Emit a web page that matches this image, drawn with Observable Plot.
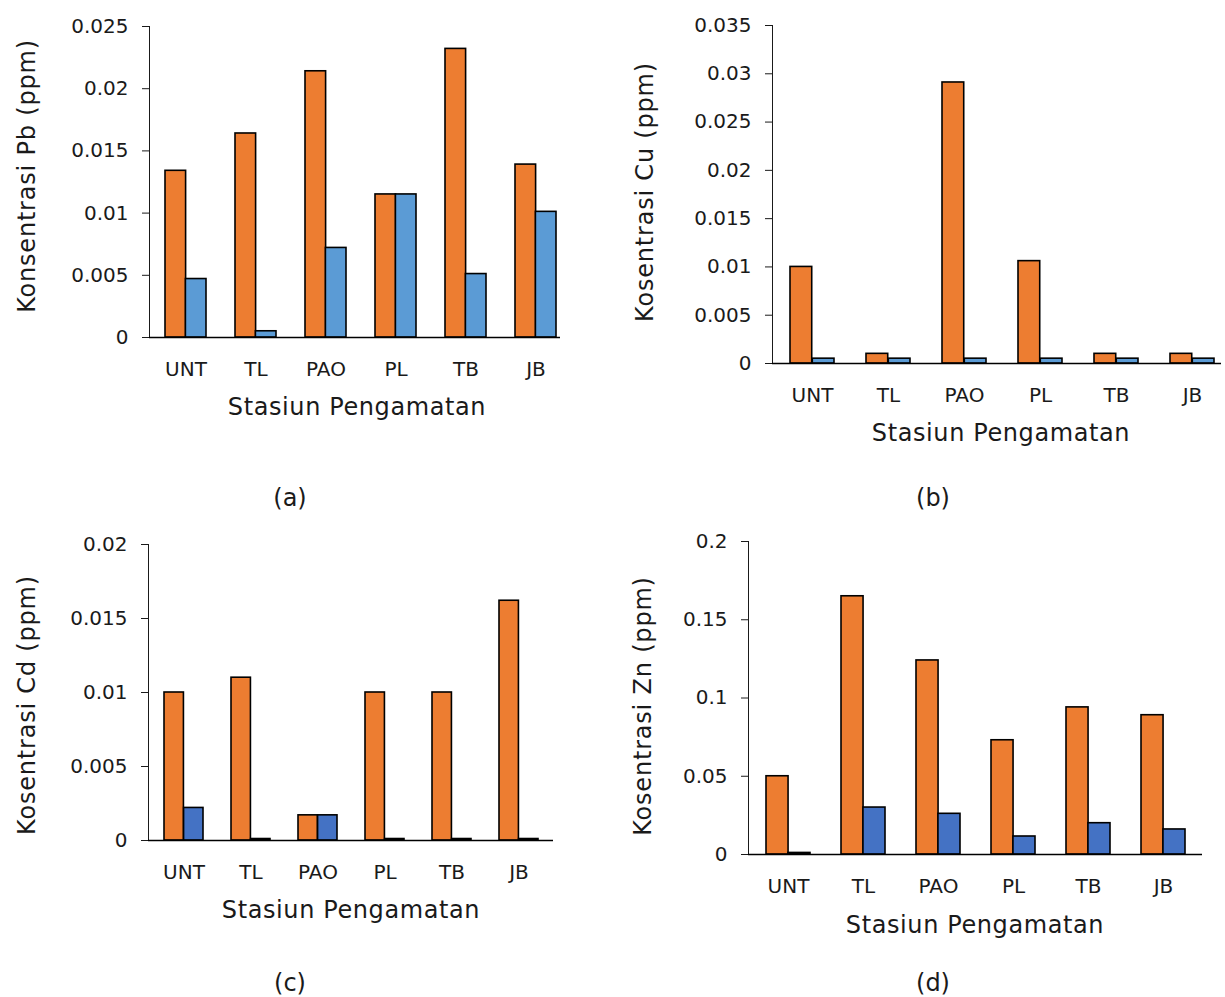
<!DOCTYPE html>
<html>
<head>
<meta charset="utf-8">
<script src="https://cdn.jsdelivr.net/npm/d3@7"></script>
<script src="https://cdn.jsdelivr.net/npm/@observablehq/plot@0.6"></script>
<style>
  html, body { margin: 0; padding: 0; background: #fff; }
  #page { position: relative; width: 1225px; height: 997px; overflow: hidden; font-family: "DejaVu Sans", sans-serif; color: #1a1a1a; }
  .panel { position: absolute; overflow: hidden; }
  .panel svg { max-width: none !important; }
  .lbl { position: absolute; white-space: nowrap; line-height: 1; transform: translate(-50%, -50%); }
  .ytitle { font-size: 24px; letter-spacing: 0.8px; transform: translate(-50%, -50%) rotate(-90deg); }
  .xtitle { font-size: 24px; letter-spacing: 0.6px; }
  .plab { font-size: 24px; }
</style>
</head>
<body>
<div id="page"></div>
<script>
// ---- data ----
const stations = ["UNT", "TL", "PAO", "PL", "TB", "JB"];

const pbOrange = [0.0134, 0.0164, 0.0214, 0.0115, 0.0232, 0.0139];
const pbBlue   = [0.0047, 0.0005, 0.0072, 0.0115, 0.0051, 0.0101];

const cuOrange = [0.0100, 0.0010, 0.0291, 0.0106, 0.0010, 0.0010];
const cuBlue   = [0.0005, 0.0005, 0.0005, 0.0005, 0.0005, 0.0005];

const cdOrange = [0.0100, 0.0110, 0.0017, 0.0100, 0.0100, 0.0162];
const cdBlue   = [0.0022, 0.0001, 0.0017, 0.0001, 0.0001, 0.0001];

const znOrange = [0.050, 0.165, 0.124, 0.073, 0.094, 0.089];
const znBlue   = [0.001, 0.030, 0.026, 0.0115, 0.020, 0.016];

const pbTicks = [0, 0.005, 0.01, 0.015, 0.02, 0.025];
const cuTicks = [0, 0.005, 0.01, 0.015, 0.02, 0.025, 0.03, 0.035];
const cdTicks = [0, 0.005, 0.01, 0.015, 0.02];
const znTicks = [0, 0.05, 0.1, 0.15, 0.2];

const xTitle = "Stasiun Pengamatan";
const yTitles = ["Konsentrasi Pb (ppm)", "Kosentrasi Cu (ppm)", "Kosentrasi Cd (ppm)", "Kosentrasi Zn (ppm)"];
const panelLabels = ["(a)", "(b)", "(c)", "(d)"];

const ORANGE = "#ED7D31";
const BLUE_AB = "#5B9BD5";
const BLUE_CD = "#4472C4";

const page = document.getElementById("page");

function makePanel(cfg) {
  const data = stations.map((s, i) => ({ station: s, a: cfg.orange[i], b: cfg.blue[i] }));
  const inner = cfg.width - cfg.marginLeft - cfg.marginRight;
  const half = inner / 6 * 0.58 / 2;
  const chart = Plot.plot({
    width: cfg.width,
    height: cfg.height,
    marginLeft: cfg.marginLeft,
    marginRight: cfg.marginRight,
    marginTop: cfg.marginTop,
    marginBottom: cfg.marginBottom,
    style: { fontFamily: "DejaVu Sans, sans-serif", fontSize: "20px", color: "#1a1a1a", background: "transparent", maxWidth: "none" },
    x: { domain: stations, paddingInner: 0.42, paddingOuter: 0.21, tickSize: 0, tickPadding: 24, label: null },
    y: { domain: [0, cfg.yMax], ticks: cfg.ticks, tickFormat: d => String(d), tickSize: 7, tickPadding: 14, label: null, line: true },
    marks: [
      Plot.barY(data, { x: "station", y: "a", fill: ORANGE, stroke: "black", strokeWidth: 1.6, insetRight: half }),
      Plot.barY(data, { x: "station", y: "b", fill: cfg.blueColor, stroke: "black", strokeWidth: 1.6, insetLeft: half }),
      Plot.ruleY([0], { stroke: "black", strokeWidth: 1.6 })
    ]
  });
  const div = document.createElement("div");
  div.className = "panel";
  div.style.left = cfg.left + "px";
  div.style.top = cfg.top + "px";
  div.style.width = cfg.clipW + "px";
  div.style.height = cfg.clipH + "px";
  div.appendChild(chart);
  page.appendChild(div);
}

function addLabel(text, cls, x, y) {
  const d = document.createElement("div");
  d.className = "lbl " + cls;
  d.textContent = text;
  d.style.left = x + "px";
  d.style.top = y + "px";
  page.appendChild(d);
}

// (a)
makePanel({ orange: pbOrange, blue: pbBlue, blueColor: BLUE_AB, ticks: pbTicks, yMax: 0.025,
  left: 0, top: 0, clipW: 560, clipH: 420,
  width: 600, height: 397, marginLeft: 149, marginRight: 29, marginTop: 26, marginBottom: 60 });
// (b)
makePanel({ orange: cuOrange, blue: cuBlue, blueColor: BLUE_AB, ticks: cuTicks, yMax: 0.035,
  left: 620, top: 0, clipW: 601, clipH: 440,
  width: 633, height: 423, marginLeft: 152, marginRight: 20, marginTop: 25, marginBottom: 60 });
// (c)
makePanel({ orange: cdOrange, blue: cdBlue, blueColor: BLUE_CD, ticks: cdTicks, yMax: 0.02,
  left: 0, top: 520, clipW: 600, clipH: 420,
  width: 573, height: 380, marginLeft: 148, marginRight: 20, marginTop: 24, marginBottom: 60 });
// (d)
makePanel({ orange: znOrange, blue: znBlue, blueColor: BLUE_CD, ticks: znTicks, yMax: 0.2,
  left: 600, top: 520, clipW: 625, clipH: 420,
  width: 622, height: 394, marginLeft: 148, marginRight: 20, marginTop: 21, marginBottom: 60 });

// titles and panel labels
addLabel(yTitles[0], "ytitle", 27, 176);
addLabel(yTitles[1], "ytitle", 645, 192);
addLabel(yTitles[2], "ytitle", 27, 705);
addLabel(yTitles[3], "ytitle", 643, 706);

addLabel(xTitle, "xtitle", 357, 407);
addLabel(xTitle, "xtitle", 1001, 433);
addLabel(xTitle, "xtitle", 351, 910);
addLabel(xTitle, "xtitle", 975, 925);

addLabel(panelLabels[0], "plab", 290, 498);
addLabel(panelLabels[1], "plab", 933, 498);
addLabel(panelLabels[2], "plab", 290, 983);
addLabel(panelLabels[3], "plab", 933, 983);
</script>
</body>
</html>
